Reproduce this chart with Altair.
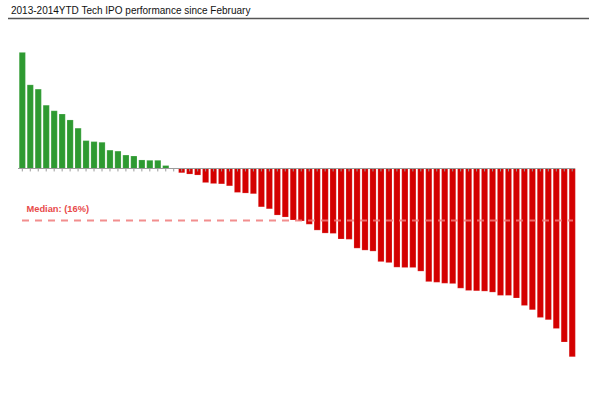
import altair as alt
import pandas as pd
import numpy as np

# Performance since February (%), sorted from best to worst
gainers = [35.4, 25.5, 24.2, 19.3, 17.6, 16.6, 14.8, 12.3, 8.5, 8.2, 8.0,
           5.6, 5.3, 4.1, 3.8, 2.6, 2.5, 2.5, 0.9]
flat = [0.0]
losers = [-1.3, -1.7, -2.0, -4.3, -4.6, -4.7, -5.3, -7.3, -7.5, -7.7,
          -11.7, -12.3, -14.2, -14.8, -15.7, -16.0, -17.0, -18.8, -19.7, -19.8,
          -21.5, -21.6, -24.3, -24.9, -25.2, -28.4, -28.7, -30.1, -30.2, -30.2,
          -31.3, -34.5, -34.7, -35.0, -35.1, -36.5, -37.2, -37.3, -37.4, -37.7,
          -38.7, -38.7, -39.5, -41.8, -43.1, -45.4, -46.1, -48.8, -52.9, -57.4]

title_text = "2013-2014YTD Tech IPO performance since February"

values = gainers + flat + losers
median = float(np.median(values))
median_label = f"Median: ({abs(round(median)):.0f}%)"

df = pd.DataFrame({"i": list(range(len(values))), "v": values})
df["sign"] = np.where(df["v"] >= 0, "up", "down")

W, H = 592, 393
xs = alt.Scale(domain=[-2.798, 71.48], nice=False, zero=False)
ys = alt.Scale(domain=[-68.45, 51.37], nice=False, zero=False)

base = alt.Chart(df)

bars = base.mark_bar(stroke="white", strokeWidth=0.3, strokeOpacity=0.6).transform_calculate(
    x0="datum.i - 0.39", x1="datum.i + 0.39"
).encode(
    x=alt.X("x0:Q", scale=xs, axis=None),
    x2="x1:Q",
    y=alt.Y("v:Q", scale=ys, axis=None),
    y2=alt.datum(0),
    color=alt.Color("sign:N", scale=alt.Scale(domain=["up", "down"], range=["#2e9a31", "#d40000"]), legend=None),
)

ticks = base.mark_rule(color="#9a9a9a", strokeWidth=1).transform_calculate(
    y0="0", y1="-0.9"
).encode(
    x=alt.X("i:Q", scale=xs, axis=None),
    y=alt.Y("y0:Q", scale=ys, axis=None),
    y2="y1:Q",
)

zero_line = alt.Chart(pd.DataFrame({"y": [0]})).mark_rule(color="#9a9a9a", strokeWidth=1).encode(
    x=alt.value(18), x2=alt.value(575), y=alt.Y("y:Q", scale=ys, axis=None)
)

median_rule = alt.Chart(pd.DataFrame({"y": [median]})).mark_rule(
    color="#f07a7a", strokeWidth=2, strokeDash=[7, 6], opacity=0.85
).encode(
    x=alt.value(22), x2=alt.value(573), y=alt.Y("y:Q", scale=ys, axis=None)
)

median_text = alt.Chart(pd.DataFrame({"y": [median], "t": [median_label]})).mark_text(
    align="left", baseline="alphabetic", dy=-8, fontSize=9.3, fontWeight="bold",
    font="Liberation Sans", color="#e84a4a"
).encode(
    x=alt.value(26.5), y=alt.Y("y:Q", scale=ys, axis=None), text="t:N"
)

title = alt.Chart(pd.DataFrame({"t": [title_text]})).mark_text(
    align="left", baseline="alphabetic", fontSize=10, font="Liberation Sans", color="#111111"
).encode(x=alt.value(11), y=alt.value(14), text="t:N")

title_rule = alt.Chart(pd.DataFrame({"t": [title_text]})).mark_rule(color="#555555", strokeWidth=1.6).encode(
    x=alt.value(8), x2=alt.value(589), y=alt.value(18.5)
)

chart = alt.layer(title, title_rule, bars, ticks, zero_line, median_rule, median_text).properties(
    width=W, height=H, autosize=alt.AutoSizeParams(type="none"), padding=0, background="white"
).configure_view(stroke=None)

chart.save("out.html", embed_options={"renderer": "svg", "actions": False})
